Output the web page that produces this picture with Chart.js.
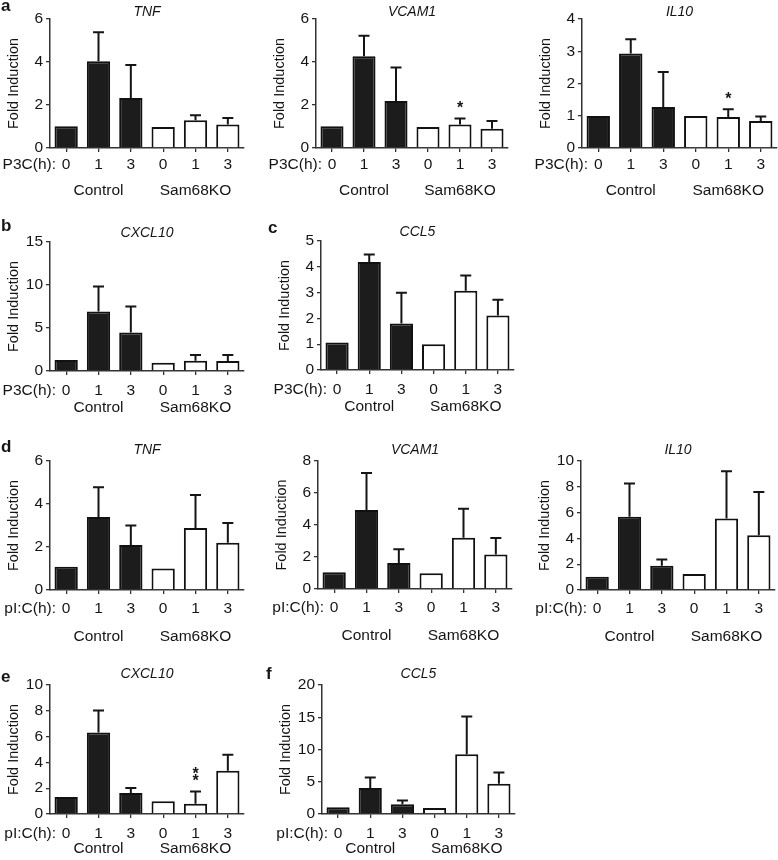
<!DOCTYPE html>
<html>
<head>
<meta charset="utf-8">
<script src="https://cdn.jsdelivr.net/npm/chart.js@4.4.1/dist/chart.umd.min.js"></script>
<style>
  body { margin: 0; background: #fff; }
  #fig { position: relative; width: 778px; height: 860px; overflow: hidden; }
  #fig canvas { position: absolute; }
</style>
</head>
<body>
<div id="fig"></div>
<script>
// shared categories
const timeLabels = ['0', '1', '3', '0', '1', '3'];
const groupLabels = ['Control', 'Sam68KO'];

// P3C stimulation (mean and upper end of error bar)
const p3cTnf = [1.01, 4.04, 2.33, 0.98, 1.29, 1.09];
const p3cTnfUpper = [null, 5.38, 3.86, null, 1.52, 1.40];
const p3cVcam1 = [1.01, 4.27, 2.19, 0.98, 1.09, 0.90];
const p3cVcam1Upper = [null, 5.22, 3.75, null, 1.37, 1.26];
const p3cIl10 = [0.99, 2.93, 1.27, 0.99, 0.96, 0.84];
const p3cIl10Upper = [null, 3.37, 2.36, null, 1.20, 0.98];
const p3cCxcl10 = [1.28, 6.92, 4.47, 0.97, 1.20, 1.17];
const p3cCxcl10Upper = [null, 9.83, 7.50, null, 1.87, 1.87];
const p3cCcl5 = [1.07, 4.19, 1.80, 1.00, 3.07, 2.11];
const p3cCcl5Upper = [null, 4.48, 2.99, null, 3.66, 2.72];

// pI:C stimulation
const picTnf = [1.08, 3.40, 2.09, 1.00, 2.88, 2.20];
const picTnfUpper = [null, 4.78, 3.00, null, 4.42, 3.12];
const picVcam1 = [1.04, 4.93, 1.62, 0.99, 3.21, 2.16];
const picVcam1Upper = [null, 7.25, 2.49, null, 5.02, 3.19];
const picIl10 = [1.03, 5.67, 1.88, 1.24, 5.54, 4.25];
const picIl10Upper = [null, 8.25, 2.37, null, 9.20, 7.60];
const picCxcl10 = [1.31, 6.31, 1.62, 0.98, 0.80, 3.35];
const picCxcl10Upper = [null, 8.02, 2.01, null, 1.75, 4.59];
const picCcl5 = [1.03, 4.02, 1.50, 0.93, 9.28, 4.69];
const picCcl5Upper = [null, 5.67, 2.11, null, 15.10, 6.44];

// y axis maxima / steps
const yMax = { a: [6, 6, 4], b: [15], c: [5], d: [6, 8, 10], e: [10], f: [20] };
const yStep = { a: [2, 2, 1], b: [5], c: [1], d: [2, 2, 2], e: [2], f: [5] };

const FONT = 'Liberation Sans, Arial, Helvetica, sans-serif';
const INK = '#151515';
const barFill = ['#1c1c1c', '#1c1c1c', '#1c1c1c', '#ffffff', '#ffffff', '#ffffff'];

// layout of each panel: canvas box, spine x, top/zero y, right end
const panels = [
  { letter: 'a', lx: 1, ly: 6, title: 'TNF', treat: 'P3C(h):', data: p3cTnf, upper: p3cTnfUpper, max: yMax.a[0], step: yStep.a[0],
    box: [0, 0, 258, 205], spine: 50, top: 19, zero: 148, right: 244, tg: 17, gg: 43, ttl: 7 },
  { title: 'VCAM1', treat: 'P3C(h):', data: p3cVcam1, upper: p3cVcam1Upper, max: yMax.a[1], step: yStep.a[1], stars: { 4: 1 },
    box: [258, 0, 260, 205], spine: 316, top: 19, zero: 148, right: 508, tg: 17, gg: 43, ttl: 7 },
  { title: 'IL10', treat: 'P3C(h):', data: p3cIl10, upper: p3cIl10Upper, max: yMax.a[2], step: yStep.a[2], stars: { 4: 1 },
    box: [518, 0, 260, 205], spine: 582, top: 19, zero: 148, right: 777, tg: 17, gg: 43, ttl: 7 },
  { letter: 'b', lx: 1, ly: 226, title: 'CXCL10', treat: 'P3C(h):', data: p3cCxcl10, upper: p3cCxcl10Upper, max: yMax.b[0], step: yStep.b[0],
    box: [0, 205, 258, 215], spine: 50, top: 242, zero: 371, right: 244, tg: 20, gg: 37, ttl: 9 },
  { letter: 'c', lx: 268, ly: 228, title: 'CCL5', treat: 'P3C(h):', data: p3cCcl5, upper: p3cCcl5Upper, max: yMax.c[0], step: yStep.c[0],
    box: [258, 205, 260, 215], spine: 321, top: 241, zero: 370, right: 514, tg: 20, gg: 37, ttl: 9 },
  { letter: 'd', lx: 1, ly: 447, title: 'TNF', treat: 'pI:C(h):', data: picTnf, upper: picTnfUpper, max: yMax.d[0], step: yStep.d[0],
    box: [0, 425, 258, 225], spine: 50, top: 461, zero: 590, right: 244, tg: 19, gg: 47, ttl: 11 },
  { title: 'VCAM1', treat: 'pI:C(h):', data: picVcam1, upper: picVcam1Upper, max: yMax.d[1], step: yStep.d[1],
    box: [258, 425, 260, 225], spine: 318, top: 461, zero: 589, right: 512, tg: 19, gg: 47, ttl: 11 },
  { title: 'IL10', treat: 'pI:C(h):', data: picIl10, upper: picIl10Upper, max: yMax.d[2], step: yStep.d[2],
    box: [518, 425, 260, 225], spine: 581, top: 461, zero: 590, right: 775, tg: 19, gg: 47, ttl: 11 },
  { letter: 'e', lx: 1, ly: 677, title: 'CXCL10', treat: 'pI:C(h):', data: picCxcl10, upper: picCxcl10Upper, max: yMax.e[0], step: yStep.e[0], stars: { 4: 2 },
    box: [0, 650, 258, 210], spine: 50, top: 685, zero: 814, right: 244, tg: 20, gg: 35, ttl: 11 },
  { letter: 'f', lx: 266, ly: 674, title: 'CCL5', treat: 'pI:C(h):', data: picCcl5, upper: picCcl5Upper, max: yMax.f[0], step: yStep.f[0],
    box: [258, 650, 260, 210], spine: 322, top: 685, zero: 814, right: 515, tg: 20, gg: 35, ttl: 11 }
];

const Y_W = 45;   // width reserved for y ticks + title
const X_H = 30;   // height reserved for x ticks
const TICK_SIZE = 15.5;

// error bars, stars and the extra texts around each panel
const decorPlugin = {
  id: 'decor',
  afterDatasetsDraw(chart) {
    const p = chart.options.plugins.decor;
    const ctx = chart.ctx;
    const y = chart.scales.y;
    const bars = chart.getDatasetMeta(0).data;
    ctx.save();
    ctx.strokeStyle = INK;
    ctx.lineWidth = 2;
    p.upper.forEach((u, i) => {
      if (u == null) return;
      const bx = bars[i].x, top = y.getPixelForValue(u);
      ctx.beginPath();
      ctx.moveTo(bx, bars[i].y);
      ctx.lineTo(bx, top);
      ctx.moveTo(bx - 5.5, top);
      ctx.lineTo(bx + 5.5, top);
      ctx.stroke();
    });
    ctx.fillStyle = INK;
    ctx.font = 'bold 16px ' + FONT;
    ctx.textAlign = 'center';
    ctx.textBaseline = 'middle';
    Object.entries(p.stars || {}).forEach(([i, n]) => {
      const bx = bars[i].x, top = y.getPixelForValue(p.upper[i]);
      for (let k = 0; k < n; k++) ctx.fillText('*', bx, top - 10 - k * 7);
    });
    ctx.restore();
  },
  afterDraw(chart) {
    const p = chart.options.plugins.decor;
    const ctx = chart.ctx, area = chart.chartArea, x = chart.scales.x;
    ctx.save();
    ctx.fillStyle = INK;
    ctx.textBaseline = 'middle';
    ctx.font = 'italic 14px ' + FONT;
    ctx.textAlign = 'center';
    ctx.fillText(p.title, (area.left + area.right) / 2, area.top - p.ttl);
    ctx.font = TICK_SIZE + 'px ' + FONT;
    ctx.fillText(groupLabels[0], x.getPixelForValue(1), area.bottom + p.gg);
    ctx.fillText(groupLabels[1], x.getPixelForValue(4), area.bottom + p.gg);
    ctx.textAlign = 'right';
    ctx.fillText(p.treat, area.left + 6, area.bottom + p.tg);
    if (p.letter) {
      ctx.font = 'bold 17px ' + FONT;
      ctx.textAlign = 'left';
      ctx.fillText(p.letter, p.lx, p.ly);
    }
    ctx.restore();
  }
};

const fig = document.getElementById('fig');
panels.forEach(p => {
  const [x0, y0, w, h] = p.box;
  const cv = document.createElement('canvas');
  cv.width = w; cv.height = h;
  cv.style.left = x0 + 'px'; cv.style.top = y0 + 'px';
  cv.style.width = w + 'px'; cv.style.height = h + 'px';
  fig.appendChild(cv);

  const axisGrid = { display: true, drawOnChartArea: false, drawTicks: true, tickLength: 4, color: '#333', lineWidth: 1.3 };
  const axisBorder = { display: true, color: '#333', width: 1.5 };

  new Chart(cv.getContext('2d'), {
    type: 'bar',
    data: {
      labels: timeLabels,
      datasets: [{
        data: p.data,
        backgroundColor: barFill,
        borderColor: '#111',
        borderWidth: 2,
        categoryPercentage: 1,
        barPercentage: 0.72
      }]
    },
    options: {
      responsive: false,
      animation: false,
      devicePixelRatio: 1,
      layout: {
        padding: {
          left: p.spine - x0 - Y_W,
          top: p.top - y0,
          right: x0 + w - p.right,
          bottom: y0 + h - p.zero - X_H
        }
      },
      plugins: {
        legend: { display: false },
        tooltip: { enabled: false },
        decor: {
          title: p.title, treat: p.treat, upper: p.upper, stars: p.stars,
          letter: p.letter, lx: (p.lx || 0) - x0, ly: (p.ly || 0) - y0,
          tg: p.tg, gg: p.gg, ttl: p.ttl
        }
      },
      scales: {
        x: {
          offset: true,
          grid: Object.assign({ offset: false }, axisGrid),
          border: axisBorder,
          ticks: { color: INK, font: { family: FONT, size: TICK_SIZE }, padding: p.tg - 4 - TICK_SIZE * 0.6, maxRotation: 0, autoSkip: false },
          afterFit: s => { s.height = X_H; }
        },
        y: {
          min: 0, max: p.max,
          grid: axisGrid,
          border: axisBorder,
          ticks: { stepSize: p.step, color: INK, font: { family: FONT, size: TICK_SIZE }, padding: 3 },
          title: { display: true, text: 'Fold Induction', color: INK, font: { family: FONT, size: 14.5 }, padding: 0 },
          afterFit: s => { s.width = Y_W; }
        }
      }
    },
    plugins: [decorPlugin]
  });
});
</script>
</body>
</html>
